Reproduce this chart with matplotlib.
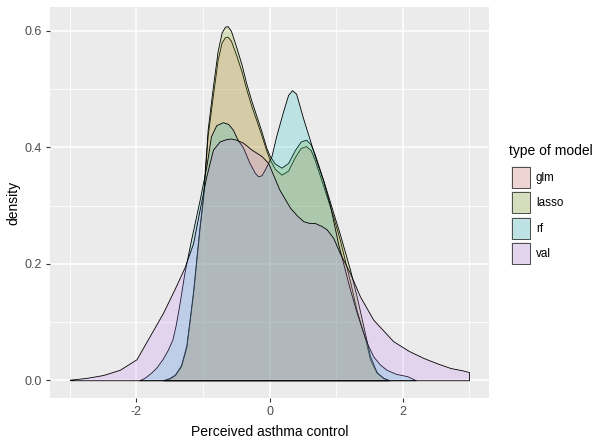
import numpy as np
import matplotlib
matplotlib.use("Agg")
import matplotlib.pyplot as plt
from matplotlib.patches import Rectangle
from matplotlib import font_manager
from matplotlib.colors import to_rgba

names = {f.name for f in font_manager.fontManager.ttflist}
FONT = "Liberation Sans Narrow" if "Liberation Sans Narrow" in names else "Liberation Sans"
plt.rcParams['font.family'] = [FONT, 'DejaVu Sans']

models = ["glm", "lasso", "rf", "val"]
colors = ["#F8766D", "#7CAE00", "#00BFC4", "#C77CFF"]

glm_x = [-1.6, -1.5, -1.42, -1.33, -1.25, -1.2, -1.15, -1.1, -1.05, -1.0, -0.93, -0.85, -0.78, -0.72,
         -0.67, -0.63, -0.58, -0.5, -0.42, -0.35, -0.27, -0.2, -0.12, -0.05, 0.0, 0.08, 0.18, 0.28,
         0.38, 0.47, 0.55, 0.62, 0.68, 0.81, 0.96, 1.06, 1.21, 1.31, 1.44, 1.51, 1.61, 1.71, 1.8]
glm_y = [0.0, 0.003, 0.009, 0.024, 0.057, 0.102, 0.148, 0.205, 0.262, 0.31, 0.42, 0.49, 0.55, 0.58,
         0.589, 0.59, 0.583, 0.558, 0.53, 0.50, 0.47, 0.447, 0.42, 0.395, 0.38, 0.363, 0.353, 0.36,
         0.383, 0.399, 0.402, 0.395, 0.378, 0.333, 0.28, 0.24, 0.17, 0.12, 0.07, 0.036, 0.013, 0.004, 0.0]

lasso_x = glm_x
lasso_y = [0.0, 0.004, 0.01, 0.026, 0.06, 0.106, 0.152, 0.21, 0.266, 0.315, 0.43, 0.505, 0.565, 0.597,
           0.607, 0.608, 0.60, 0.572, 0.542, 0.51, 0.479, 0.455, 0.427, 0.40, 0.386, 0.372, 0.365, 0.373,
           0.395, 0.41, 0.413, 0.405, 0.388, 0.343, 0.287, 0.25, 0.19, 0.144, 0.078, 0.042, 0.014, 0.004, 0.0]

rf_x = [-1.96, -1.88, -1.78, -1.7, -1.61, -1.53, -1.46, -1.41, -1.36, -1.28, -1.18, -1.05, -0.95, -0.88,
        -0.8, -0.7, -0.62, -0.55, -0.48, -0.4, -0.3, -0.22, -0.17, -0.12, -0.07, 0.03, 0.1, 0.2, 0.28,
        0.34, 0.4, 0.51, 0.6, 0.68, 0.8, 0.91, 1.03, 1.2, 1.3, 1.41, 1.48, 1.56, 1.66, 1.76, 1.9, 2.07, 2.2]
rf_y = [0.0, 0.004, 0.013, 0.022, 0.036, 0.052, 0.07, 0.095, 0.127, 0.184, 0.241, 0.31, 0.367, 0.419,
        0.438, 0.443, 0.44, 0.43, 0.413, 0.400, 0.373, 0.356, 0.350, 0.352, 0.362, 0.385, 0.419, 0.460, 0.490,
        0.498, 0.492, 0.448, 0.415, 0.385, 0.345, 0.300, 0.235, 0.160, 0.120, 0.081, 0.060, 0.041, 0.027,
        0.018, 0.011, 0.007, 0.0]

val_x = [-3.0, -2.75, -2.5, -2.25, -2.0, -1.8, -1.6, -1.43, -1.28, -1.15, -1.03, -0.95, -0.85, -0.75,
         -0.65, -0.58, -0.5, -0.4, -0.27, -0.12, -0.02, 0.15, 0.31, 0.42, 0.51, 0.6, 0.68, 0.78, 0.86,
         0.96, 1.05, 1.21, 1.36, 1.56, 1.86, 2.1, 2.32, 2.52, 2.72, 2.9, 3.0]
val_y = [0.001, 0.004, 0.009, 0.018, 0.036, 0.076, 0.116, 0.156, 0.193, 0.235, 0.305, 0.35, 0.396, 0.41,
         0.414, 0.415, 0.413, 0.408, 0.396, 0.385, 0.373, 0.327, 0.296, 0.282, 0.273, 0.270, 0.270, 0.265,
         0.259, 0.244, 0.220, 0.184, 0.144, 0.104, 0.067, 0.050, 0.038, 0.029, 0.021, 0.017, 0.014]

x_ticks = [-2, 0, 2]
x_tick_labels = ["-2", "0", "2"]
y_ticks = [0.0, 0.2, 0.4, 0.6]
y_tick_labels = ["0.0", "0.2", "0.4", "0.6"]

series = [(glm_x, glm_y), (lasso_x, lasso_y), (rf_x, rf_y), (val_x, val_y)]

W, H = 595, 440
fig = plt.figure(figsize=(W / 100, H / 100), dpi=100)
fig.patch.set_facecolor("white")
L, R, T, B = 50, 489, 7.5, 398
ax = fig.add_axes([L / W, 1 - B / H, (R - L) / W, (B - T) / H])
ax.set_facecolor("#EBEBEB")
for s in ax.spines.values():
    s.set_visible(False)

ax.set_xlim(-3.3, 3.3)
ax.set_ylim(-0.0305, 0.640)

for v in [-3, -1, 1, 3]:
    ax.axvline(v, color="white", lw=0.55, zorder=0)
for v in [0.1, 0.3, 0.5]:
    ax.axhline(v, color="white", lw=0.55, zorder=0)
for v in x_ticks:
    ax.axvline(v, color="white", lw=1.1, zorder=0)
for v in y_ticks:
    ax.axhline(v, color="white", lw=1.1, zorder=0)

for (xs, ys), c in zip(series, colors):
    ax.fill_between(xs, ys, 0, facecolor=to_rgba(c, 0.2), edgecolor="black", linewidth=0.6, zorder=2)

ax.set_xticks(x_ticks)
ax.set_xticklabels(x_tick_labels)
ax.set_yticks(y_ticks)
ax.set_yticklabels(y_tick_labels)
ax.tick_params(axis="both", colors="#333333", length=3, width=0.8, labelsize=9,
               labelcolor="#4D4D4D", pad=2.5)
ax.set_xlabel("Perceived asthma control", fontsize=10, color="black", labelpad=5)
ax.set_ylabel("density", fontsize=10, color="black", labelpad=3)

# legend
fig.text(509 / W, 1 - 151 / H, "type of model", fontsize=10, va="center", ha="left")
for i, (m, c) in enumerate(zip(models, colors)):
    y0 = 166 + 25.3 * i
    rect = Rectangle((511 / W, 1 - (y0 + 23) / H), 20 / W, 23 / H, transform=fig.transFigure,
                     facecolor="#EBEBEB", edgecolor="none")
    fig.patches.append(rect)
    rect2 = Rectangle((512 / W, 1 - (y0 + 22) / H), 18 / W, 21 / H, transform=fig.transFigure,
                      facecolor=to_rgba(c, 0.2), edgecolor="#333333", linewidth=0.6)
    fig.patches.append(rect2)
    fig.text(536 / W, 1 - (y0 + 12) / H, m, fontsize=8.4, va="center", ha="left")

fig.savefig("out.png", dpi=100)
